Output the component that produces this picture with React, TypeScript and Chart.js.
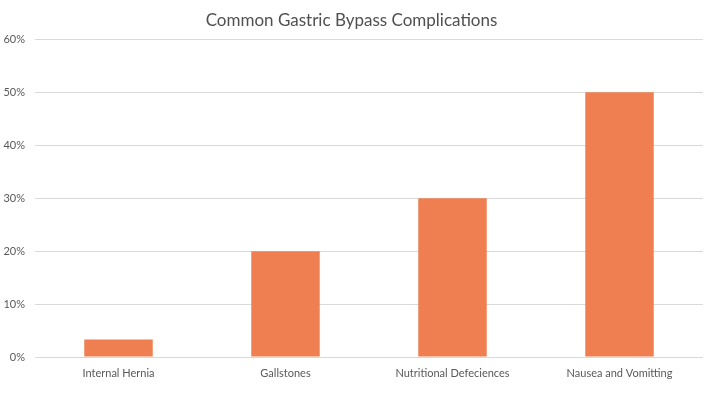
import React, { useEffect, useRef } from "react";
import { Chart, registerables } from "chart.js";

Chart.register(...registerables);

const categories = ["Internal Hernia", "Gallstones", "Nutritional Defeciences", "Nausea and Vomitting"];
const values = [3.3, 20, 30, 50];
const yTicks = [0, 10, 20, 30, 40, 50, 60];
const titleText = "Common Gastric Bypass Complications";

export default function App() {
  const ref = useRef<HTMLCanvasElement | null>(null);
  useEffect(() => {
    document.body.style.margin = "0";
    const ctx = ref.current!;
    const chart = new Chart(ctx, {
      type: "bar",
      data: {
        labels: categories,
        datasets: [
          {
            data: values,
            backgroundColor: "#EF7F50",
            categoryPercentage: 1,
            barPercentage: 0.41,
          },
        ],
      },
      options: {
        animation: false,
        responsive: false,
        maintainAspectRatio: false,
        layout: { padding: { left: 0, right: 10, top: 0, bottom: 0 } },
        plugins: {
          legend: { display: false },
          tooltip: { enabled: false },
          title: {
            display: true,
            text: titleText,
            color: "#505050",
            font: { family: "Lato", size: 17, weight: "normal", lineHeight: 1.2 },
            padding: { top: 10, bottom: 9 },
          },
        },
        scales: {
          x: {
            grid: { display: false, drawTicks: false },
            border: { display: false },
            ticks: {
              color: "#595959",
              font: { family: "Lato", size: 11 },
              padding: 10,
              maxRotation: 0,
              autoSkip: false,
            },
            afterFit: (s: any) => {
              s.height = 37;
            },
          },
          y: {
            min: 0,
            max: 60,
            afterBuildTicks: (s: any) => {
              s.ticks = yTicks.map((v) => ({ value: v }));
            },
            grid: { color: "#D9D9D9", drawTicks: false, lineWidth: 1 },
            border: { display: false },
            ticks: {
              color: "#595959",
              font: { family: "Lato", size: 11 },
              padding: 10,
              callback: (v: any) => v + "%",
            },
            afterFit: (s: any) => {
              s.width = 35;
            },
          },
        },
      },
    });
    return () => chart.destroy();
  }, []);
  return (
    <div style={{ width: 713, height: 394, background: "#fff" }}>
      <canvas ref={ref} width={713} height={394} style={{ display: "block" }} />
    </div>
  );
}
